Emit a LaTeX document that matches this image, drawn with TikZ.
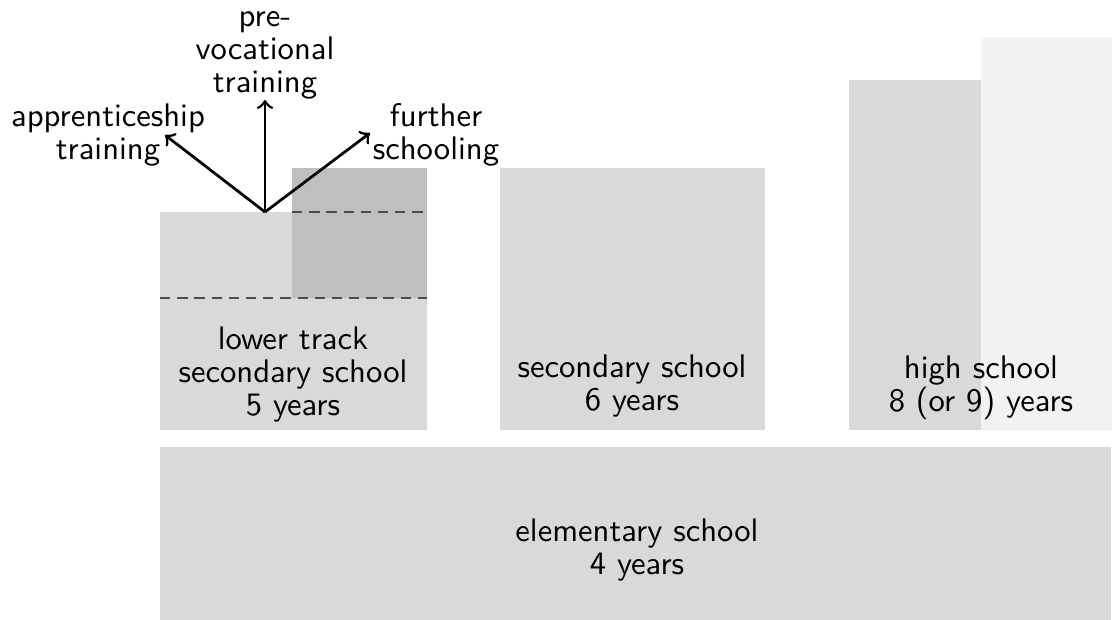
\documentclass[tikz,border=0pt]{standalone}
\usetikzlibrary{positioning}
\newcommand\px{0.2907pt}
\tikzset{
  block/.style={rectangle,inner sep=0pt,outer sep=0pt,anchor=north west},
  caption/.style={align=center,font=\sffamily\fontsize{9.5}{9.6}\selectfont},
  split/.style={-to,thick},
  level/.style={dash pattern=on 3pt off 2pt,semithick,black!70}
}
\begin{document}
\begin{tikzpicture}[x=0.01022cm,y=-0.01022cm]
      \useasboundingbox (0,0) rectangle (1112,620);
      % schools
      \node[block,fill=gray!30,minimum width=952*\px,minimum height=173*\px] (elem) at (160,447) {};
      \node[block,fill=gray!30,minimum width=267*\px,minimum height=218*\px] (lower) at (160,212) {};
      \node[block,fill=gray!50,minimum width=135*\px,minimum height=130*\px] (extra) at (292,168) {};
      \node[block,fill=gray!30,minimum width=265*\px,minimum height=262*\px] (second) at (500,168) {};
      \node[block,fill=gray!30,minimum width=132*\px,minimum height=350*\px] (high) at (849,80) {};
      \node[block,fill=gray!10,minimum width=131*\px,minimum height=393*\px] (highb) at (981,37) {};
      \draw[level] (extra.west |- lower.north) -- (lower.north east);
      \draw[level] (lower.west |- extra.south) -- (extra.south east);
      % texts
      \node[caption] (elemt) at (637,550) {elementary school\\4 years};
      \node[caption] (lowert) at (293,375) {lower track\\secondary school\\5 years};
      \node[caption] (secondt) at (632,386) {secondary school\\6 years};
      \node[caption] (hight) at (981,388) {high school\\8 (or 9) years};
      % ways out
      \coordinate (s) at (265,212);
      \coordinate (sa) at (165,135);
      \coordinate (sp) at (265,100);
      \coordinate (sf) at (370,133);
      \draw[split] (s) -- (sa);
      \draw[split] (s) -- (sp);
      \draw[split] (s) -- (sf);
      \node[caption] (appr) at (108,135) {apprenticeship\\training};
      \node[caption] (prev) at (265,55) {pre-\\vocational\\training};
      \node[caption] (furt) at (436,135) {further\\schooling};
    \end{tikzpicture}
\end{document}
